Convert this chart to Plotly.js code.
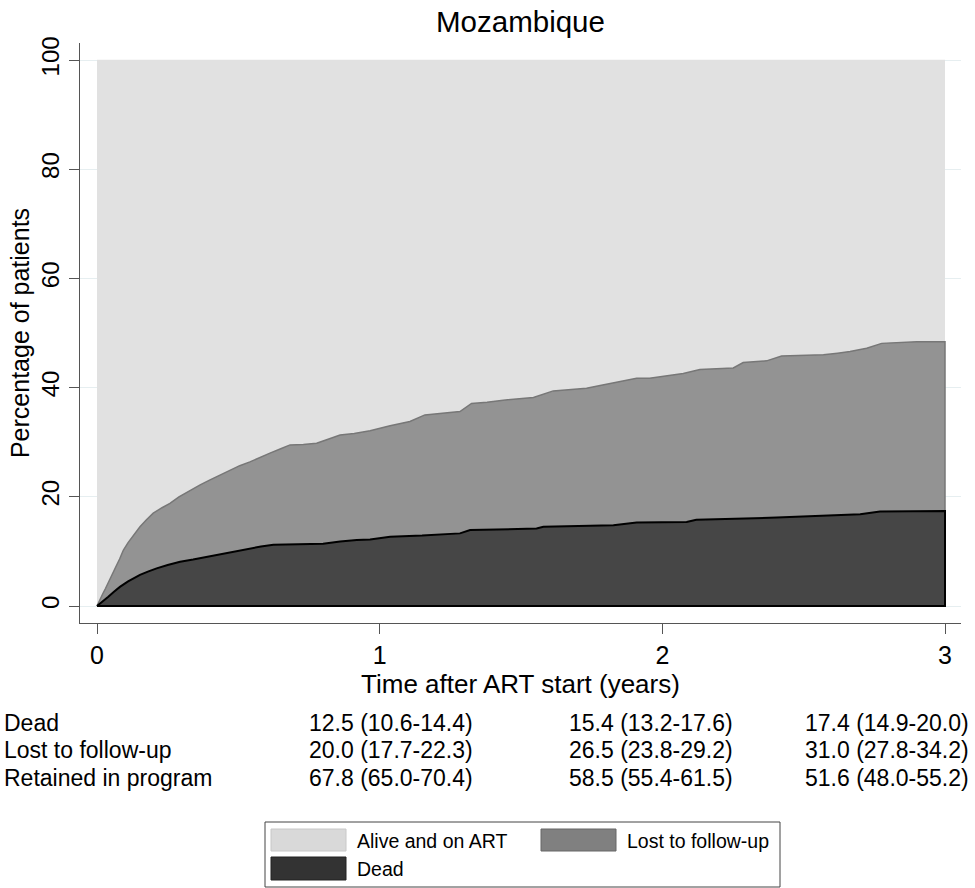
<!DOCTYPE html>
<html>
<head>
<meta charset="utf-8">
<script src="https://cdn.plot.ly/plotly-3.0.1.min.js"></script>
<style>html,body{margin:0;padding:0;background:#fff;}#chart{width:975px;height:888px;}</style>
</head>
<body>
<div id="chart"></div>
<script>
// ---- data ----
const tLtfu = [0, 0.01, 0.02, 0.03, 0.05, 0.065, 0.08, 0.093, 0.11, 0.128, 0.152, 0.175, 0.199, 0.23, 0.258, 0.29, 0.329, 0.365, 0.40, 0.435, 0.471, 0.505, 0.541, 0.575, 0.612, 0.65, 0.683, 0.73, 0.777, 0.82, 0.86, 0.91, 0.966, 1.037, 1.107, 1.16, 1.22, 1.284, 1.325, 1.38, 1.437, 1.49, 1.544, 1.614, 1.67, 1.732, 1.78, 1.827, 1.909, 1.955, 2.003, 2.074, 2.133, 2.19, 2.251, 2.286, 2.33, 2.369, 2.422, 2.5, 2.57, 2.62, 2.664, 2.723, 2.776, 2.90, 3.0];
const deadPlusLtfu = [0, 1.2, 2.2, 3.2, 5.5, 7.0, 8.6, 10.2, 11.6, 12.9, 14.5, 15.8, 17.0, 18.0, 18.8, 20.0, 21.2, 22.2, 23.1, 24.0, 24.9, 25.7, 26.4, 27.2, 28.0, 28.8, 29.5, 29.6, 29.8, 30.6, 31.3, 31.6, 32.1, 33.0, 33.8, 35.0, 35.3, 35.6, 37.1, 37.3, 37.7, 38.0, 38.2, 39.4, 39.6, 39.9, 40.4, 40.9, 41.7, 41.7, 42.1, 42.6, 43.3, 43.4, 43.6, 44.6, 44.7, 44.9, 45.8, 45.9, 46.0, 46.3, 46.6, 47.2, 48.1, 48.4, 48.4];
const tDead = [0, 0.02, 0.04, 0.06, 0.081, 0.11, 0.152, 0.18, 0.211, 0.25, 0.294, 0.34, 0.388, 0.43, 0.471, 0.541, 0.58, 0.624, 0.70, 0.80, 0.86, 0.919, 0.966, 1.037, 1.15, 1.284, 1.32, 1.555, 1.579, 1.827, 1.909, 2.027, 2.086, 2.12, 2.405, 2.70, 2.77, 3.0];
const deadPct = [0, 0.8, 1.7, 2.6, 3.5, 4.5, 5.7, 6.3, 6.9, 7.5, 8.1, 8.5, 9.0, 9.4, 9.9, 10.6, 10.9, 11.2, 11.3, 11.4, 11.8, 12.1, 12.2, 12.7, 12.9, 13.3, 13.9, 14.2, 14.5, 14.8, 15.3, 15.4, 15.4, 15.8, 16.2, 16.8, 17.3, 17.4];
const tAlive = [0, 3];
const aliveTop = [100, 100];

const xTicks = [0, 1, 2, 3];
const yTicks = [0, 20, 40, 60, 80, 100];

const rowLabels = ['Dead', 'Lost to follow-up', 'Retained in program'];
const col1 = ['12.5 (10.6-14.4)', '20.0 (17.7-22.3)', '67.8 (65.0-70.4)'];
const col2 = ['15.4 (13.2-17.6)', '26.5 (23.8-29.2)', '58.5 (55.4-61.5)'];
const col3 = ['17.4 (14.9-20.0)', '31.0 (27.8-34.2)', '51.6 (48.0-55.2)'];
const legendLabels = ['Alive and on ART', 'Lost to follow-up', 'Dead'];

// ---- layout helpers ----
const W = 975, H = 888;
const M = {l: 80, r: 14, t: 43, b: 265};
const PW = W - M.l - M.r, PH = H - M.t - M.b;
const px = v => (v - M.l) / PW;          // pixel x -> paper
const py = v => (H - M.b - v) / PH;      // pixel y -> paper
const FONT = '"Liberation Sans", Arial, Helvetica, sans-serif';

function closed(xs, ys) {
  return {x: xs.concat([xs[xs.length - 1], xs[0]]), y: ys.concat([0, 0])};
}
const ltfuPoly = closed(tLtfu, deadPlusLtfu);
const deadPoly = closed(tDead, deadPct);

const traces = [
  {x: tAlive, y: aliveTop, type: 'scatter', mode: 'lines', fill: 'tozeroy',
   fillcolor: '#e1e1e1', line: {color: '#e1e1e1', width: 0.5}, name: legendLabels[0],
   showlegend: false, hoverinfo: 'skip'},
  {x: ltfuPoly.x, y: ltfuPoly.y, type: 'scatter', mode: 'lines', fill: 'toself',
   fillcolor: '#939393', line: {color: '#777777', width: 1.5}, name: legendLabels[1],
   showlegend: false, hoverinfo: 'skip'},
  {x: deadPoly.x, y: deadPoly.y, type: 'scatter', mode: 'lines', fill: 'toself',
   fillcolor: '#464646', line: {color: '#000000', width: 2}, name: legendLabels[2],
   showlegend: false, hoverinfo: 'skip'}
];

const annotations = [];
const rowY = [723, 750, 778];
const TFS = 23;
rowLabels.forEach((lab, i) => {
  annotations.push({text: lab, x: px(2), y: py(rowY[i]), xref: 'paper', yref: 'paper',
    xanchor: 'left', yanchor: 'middle', showarrow: false, font: {size: TFS, color: '#000', family: FONT}});
  [[col1, 307], [col2, 567], [col3, 803]].forEach(([col, x0]) => {
    annotations.push({text: col[i], x: px(x0), y: py(rowY[i]), xref: 'paper', yref: 'paper',
      xanchor: 'left', yanchor: 'middle', showarrow: false, font: {size: TFS, color: '#000', family: FONT}});
  });
});

// legend (drawn as shapes + text)
const shapes = [
  {type: 'rect', xref: 'paper', yref: 'paper', x0: px(265), x1: px(780), y0: py(822), y1: py(887),
   line: {color: '#444', width: 1}, fillcolor: '#ffffff'},
  {type: 'rect', xref: 'paper', yref: 'paper', x0: px(271), x1: px(346), y0: py(829), y1: py(851),
   line: {color: '#c8c8c8', width: 1}, fillcolor: '#d9d9d9'},
  {type: 'rect', xref: 'paper', yref: 'paper', x0: px(541), x1: px(616), y0: py(829), y1: py(851),
   line: {color: '#666', width: 1}, fillcolor: '#808080'},
  {type: 'rect', xref: 'paper', yref: 'paper', x0: px(271), x1: px(346), y0: py(857), y1: py(880),
   line: {color: '#222', width: 1}, fillcolor: '#333333'}
];
[[legendLabels[0], 355, 841], [legendLabels[1], 625, 841], [legendLabels[2], 355, 869]].forEach(([t, x, y]) => {
  annotations.push({text: t, x: px(x), y: py(y), xref: 'paper', yref: 'paper', xanchor: 'left',
    yanchor: 'middle', showarrow: false, font: {size: 19.5, color: '#000', family: FONT}});
});

const xUnit = 848 / 3, yUnit = 546 / 100;
const layout = {
  width: W, height: H,
  margin: M,
  paper_bgcolor: '#ffffff', plot_bgcolor: '#ffffff',
  font: {family: FONT, color: '#000'},
  showlegend: false,
  title: {text: 'Mozambique', font: {size: 29.5, color: '#000', family: FONT},
          x: 0.5, xref: 'paper', xanchor: 'center', y: 1 - 22 / H, yref: 'container', yanchor: 'middle'},
  xaxis: {range: [-17 / xUnit, 3 + 16 / xUnit], tickvals: xTicks, ticktext: xTicks.map(String),
          ticks: 'outside', ticklen: 10, tickcolor: '#555', tickwidth: 1,
          showline: true, linecolor: '#555', linewidth: 1, showgrid: false, zeroline: false,
          tickfont: {size: 25, color: '#000', family: FONT},
          title: {text: 'Time after ART start (years)', font: {size: 26, color: '#000', family: FONT}, standoff: 1}},
  yaxis: {range: [-17 / yUnit, 100 + 17 / yUnit], tickvals: yTicks, ticktext: yTicks.map(String),
          tickangle: -90, ticks: 'outside', ticklen: 10, tickcolor: '#555', tickwidth: 1,
          showline: true, linecolor: '#555', linewidth: 1, showgrid: true, gridcolor: '#e6eef0', gridwidth: 1,
          zeroline: false, tickfont: {size: 24, color: '#000', family: FONT},
          title: {text: 'Percentage of patients', font: {size: 25, color: '#000', family: FONT}, standoff: 0}},
  shapes: shapes,
  annotations: annotations
};

Plotly.newPlot('chart', traces, layout, {staticPlot: true, displayModeBar: false});
</script>
</body>
</html>
